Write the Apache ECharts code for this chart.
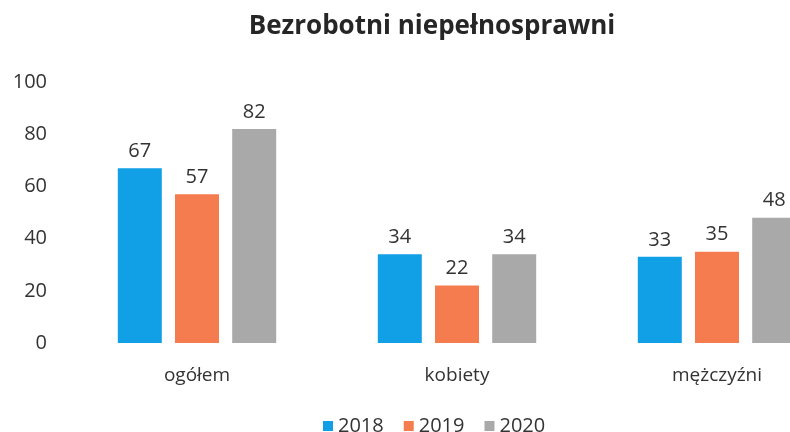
<!DOCTYPE html>
<html>
<head>
<meta charset="utf-8">
<script src="https://cdn.jsdelivr.net/npm/echarts@6/dist/echarts.min.js"></script>
<style>
  html, body { margin: 0; padding: 0; background: #fff; }
  #chart { width: 790px; height: 432px; }
</style>
</head>
<body>
<div id="chart"></div>
<script>
const categories = ['ogółem', 'kobiety', 'mężczyźni']
const years = ['2018', '2019', '2020']
const values2018 = [67, 34, 33]
const values2019 = [57, 22, 35]
const values2020 = [82, 34, 48]
const colors = ['#119fe6', '#f57c4f', '#a9a9a9']

const font = '"Open Sans", "Noto Sans", sans-serif'
const chart = echarts.init(document.getElementById('chart'))

const makeSeries = (name, data, i) => ({
  name,
  type: 'bar',
  data,
  barWidth: 44,
  barGap: '30%',
  itemStyle: { color: colors[i] },
  label: {
    show: true,
    position: 'top',
    distance: 7,
    color: '#333',
    fontSize: 20,
    fontFamily: font
  }
})

chart.setOption({
  animation: false,
  title: {
    text: 'Bezrobotni niepełnosprawni',
    left: 427,
    textAlign: 'center',
    top: 9,
    textStyle: { fontSize: 26, fontWeight: 'bold', color: '#262626', fontFamily: font }
  },
  legend: {
    data: years,
    top: 411,
    left: 318,
    itemWidth: 10,
    itemHeight: 10,
    itemGap: 20,
    icon: 'rect',
    textStyle: { fontSize: 20, color: '#333', fontFamily: font }
  },
  grid: { left: 67, width: 780, top: 82, bottom: 89, outerBoundsMode: 'none', containLabel: false },
  xAxis: {
    type: 'category',
    data: categories,
    axisLine: { show: false },
    axisTick: { show: false },
    axisLabel: { color: '#333', fontSize: 19, margin: 23, fontFamily: font }
  },
  yAxis: {
    type: 'value',
    min: 0,
    max: 100,
    interval: 20,
    splitLine: { show: false },
    axisLabel: { color: '#333', fontSize: 20, margin: 20, fontFamily: font }
  },
  series: [
    makeSeries(years[0], values2018, 0),
    makeSeries(years[1], values2019, 1),
    makeSeries(years[2], values2020, 2)
  ]
})
</script>
</body>
</html>
